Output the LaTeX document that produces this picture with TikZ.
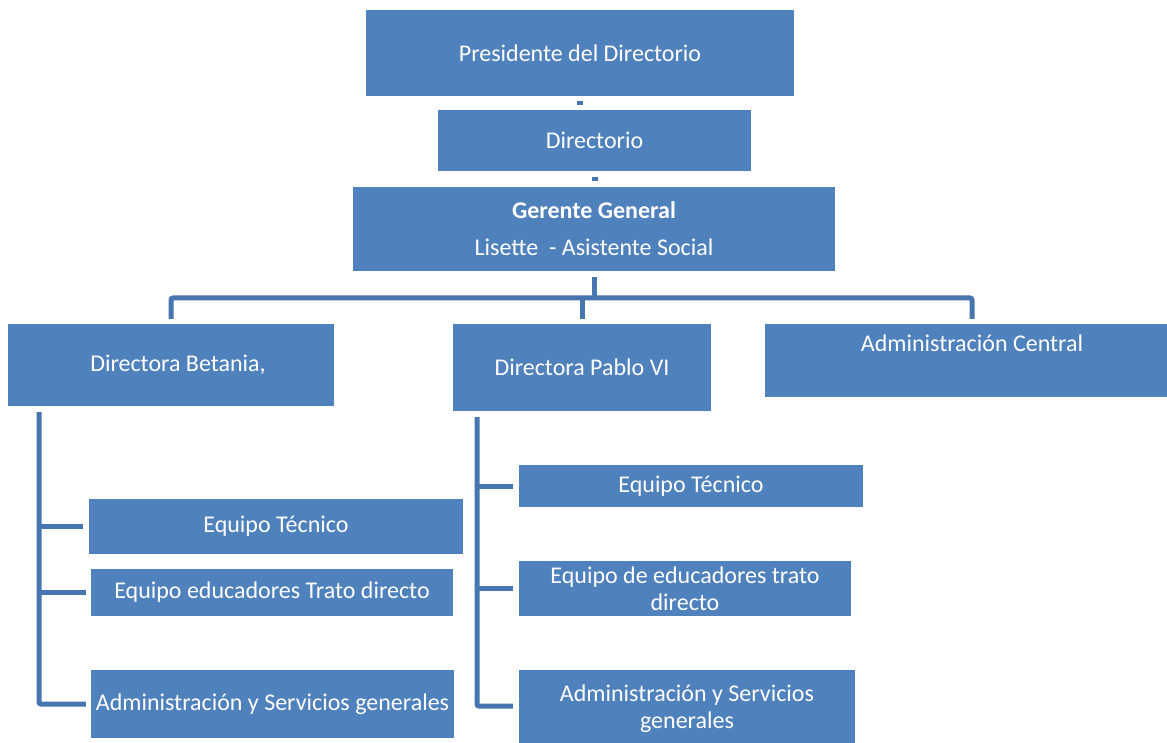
\documentclass[tikz,border=0pt]{standalone}
\usepackage{fontspec}
\setmainfont{Carlito}
\usetikzlibrary{calc}
\definecolor{boxblue}{RGB}{79,129,189}
\definecolor{linkblue}{RGB}{70,117,175}
\begin{document}
\begin{tikzpicture}[x=1pt,y=-1pt,
  orgbox/.style={fill=boxblue, text=white, inner sep=0pt, align=center,
    font=\fontsize{24}{27}\selectfont},
  lbl/.style={text=white, inner sep=0pt, align=center, font=\fontsize{24}{27}\selectfont},
  conn/.style={draw=linkblue, line width=5pt, rounded corners=2pt},
  stub/.style={draw=linkblue, line width=6pt}]
\clip (0,0) rectangle (1167,743);
\fill[white] (0,0) rectangle (1167,743);

% boxes
\node[orgbox, minimum width=428, minimum height=86] (pres) at (580,53) {Presidente del Directorio};
\node[orgbox, minimum width=313, minimum height=61] (dir) at (594.5,140.5) {Directorio};
\node[orgbox, minimum width=482, minimum height=84] (ger) at (594,229)
  {\textbf{Gerente General}\\[10pt]Lisette\ \ - Asistente Social};
\node[orgbox, minimum width=326, minimum height=82] (bet) at (171,365) {\hspace*{14pt}Directora Betania,};
\node[orgbox, minimum width=258, minimum height=87] (pab) at (582,367.5) {Directora Pablo VI};
\node[orgbox, minimum width=414, minimum height=73] (adc) at (972,360.5) {};
\node[lbl] (adct) at ($(adc.north)+(0,19)$) {Administración Central};

\node[orgbox, minimum width=374, minimum height=55] (bt) at (276,526.5) {Equipo Técnico};
\node[orgbox, minimum width=362, minimum height=47] (be) at (272,592.5) {Equipo educadores Trato directo};
\node[orgbox, minimum width=363, minimum height=68] (ba) at (272.5,704) {Administración y Servicios generales};

\node[orgbox, minimum width=344, minimum height=42] (pt) at (691,486) {Equipo Técnico};
\node[orgbox, minimum width=332, minimum height=55] (pe) at (685,588.5) {Equipo de educadores trato\\directo};
\node[orgbox, minimum width=336, minimum height=78] (pa) at (687,709) {Administración y Servicios\\generales};

% top stubs
\draw[stub, shorten <=5pt, shorten >=5pt] (pres.south) -- (pres.south |- dir.north);
\draw[stub, shorten <=6pt, shorten >=6pt] (dir.south) -- (dir.south |- ger.north);

% bar below Gerente
\coordinate (bar) at (594,298);
\draw[conn] ([yshift=-6pt]ger.south) -- (ger.south |- bar);
\draw[conn] ([yshift=5pt]bet.north) -- (bet.north |- bar) -- (adc.north |- bar) -- ([yshift=5pt]adc.north);
\draw[conn] (pab.north |- bar) -- ([yshift=5pt]pab.north);

% left tree
\coordinate (lt) at (39,412);
\draw[conn] (lt) |- ([xshift=-5pt]ba.west);
\draw[conn] (lt |- bt.west) -- ([xshift=-6pt]bt.west);
\draw[conn] (lt |- be.west) -- ([xshift=-5pt]be.west);

% right tree
\coordinate (rt) at (477,417);
\coordinate (rtend) at (477,706);
\coordinate (paw) at ([xshift=-6pt]pa.west);
\draw[conn] (rt) -- (rtend) -- (rtend -| paw);
\draw[conn] (rt |- pt.west) -- ([xshift=-6pt]pt.west);
\draw[conn] (rt |- pe.west) -- ([xshift=-6pt]pe.west);
\end{tikzpicture}
\end{document}
